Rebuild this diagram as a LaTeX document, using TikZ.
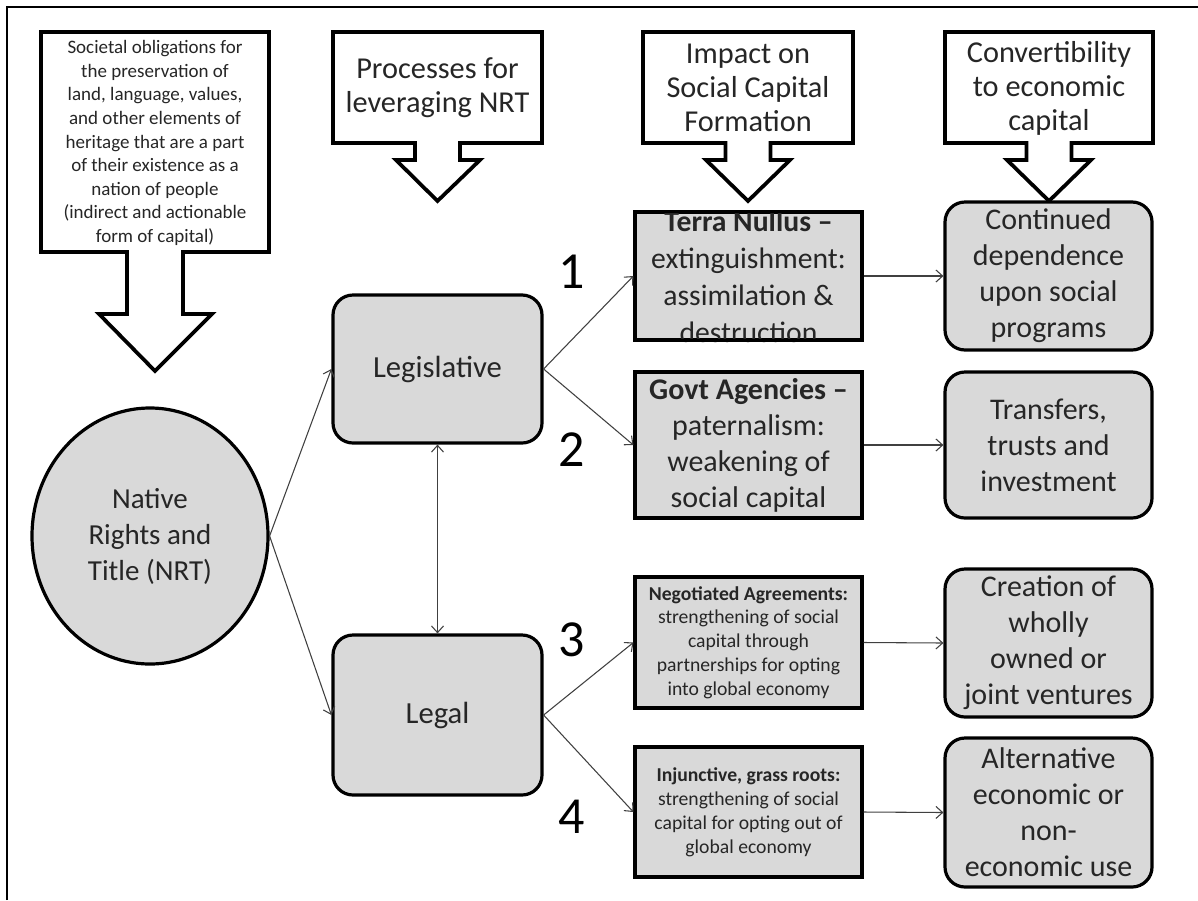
\documentclass[tikz,border=0pt]{standalone}
\usepackage{fontspec}
\setmainfont{Carlito}
\usetikzlibrary{shapes.geometric,arrows.meta}
\definecolor{boxgray}{HTML}{D9D9D9}
\definecolor{txt}{HTML}{262626}
\definecolor{conncol}{HTML}{404040}
\tikzset{
  big/.style={font=\fontsize{22.5pt}{27pt}\selectfont},
  callfont/.style={font=\fontsize{22.75pt}{25.5pt}\selectfont},
  small/.style={font=\fontsize{14.25pt}{17.7pt}\selectfont},
  smallbox/.style={font=\fontsize{14.75pt}{17.9pt}\selectfont},
  rbox/.style={draw=black, line width=2.4pt, fill=boxgray, rounded corners=15pt, inner sep=0pt, align=center, text=txt, big},
  sbox/.style={draw=black, line width=2.4pt, fill=boxgray, inner sep=0pt, align=center, text=txt},
  plain/.style={inner sep=0pt, align=center, text=txt},
  callout/.style={draw=black, line width=2.8pt, fill=white, line join=miter},
  >={Straight Barb[length=5pt,width=9pt]},
  conn/.style={draw=conncol, line width=0.8pt, ->},
  num/.style={font=\fontsize{39pt}{39pt}\selectfont, text=black, inner sep=0pt},
}
\begin{document}
\begin{tikzpicture}[x=0.75pt,y=-0.75pt]
\useasboundingbox (0,0) rectangle (1198,900);
% frame
\draw[line width=1.6pt] (7,900) -- (7,7) -- (1198,7);

% callouts
\draw[callout] (41,32) -- (269,32) -- (269,252) -- (183,252) -- (183,314) -- (212,314) -- (155,371) -- (99,314) -- (127,314) -- (127,252) -- (41,252) -- cycle;
\node[plain, small] (obl) at (155,143) {Societal obligations for\\the preservation of\\land, language, values,\\and other elements of\\heritage that are a part\\of their existence as a\\nation of people\\(indirect and actionable\\form of capital)};

\draw[callout] (333,32) -- (542,32) -- (542,143) -- (460,143) -- (460,160) -- (480,160) -- (437.5,201) -- (396,160) -- (415,160) -- (415,143) -- (333,143) -- cycle;
\node[plain, callfont] (proc) at (437.5,88) {Processes for\\leveraging NRT};

\draw[callout] (643,32) -- (853,32) -- (853,143) -- (770.5,143) -- (770.5,160) -- (790,160) -- (748,201) -- (706,160) -- (725.5,160) -- (725.5,143) -- (643,143) -- cycle;
\node[plain, callfont] (imp) at (748,88) {Impact on\\Social Capital\\Formation};

\draw[callout] (945,32) -- (1153,32) -- (1153,143) -- (1071.5,143) -- (1071.5,160) -- (1091,160) -- (1049,201) -- (1007,160) -- (1026.5,160) -- (1026.5,143) -- (945,143) -- cycle;
\node[plain, callfont] (conv) at (1049,88) {Convertibility\\to economic\\capital};

% left column
\node[ellipse, draw=black, line width=2.4pt, fill=boxgray, inner sep=0pt, minimum width=177pt, minimum height=192pt, align=center, text=txt, font=\fontsize{21.75pt}{27pt}\selectfont] (nrt) at (150,536) {Native\\Rights and\\Title (NRT)};

\node[rbox, font=\fontsize{23pt}{27pt}\selectfont, minimum width=156.75pt, minimum height=111pt] (leg) at (437.5,369) {Legislative};
\node[rbox, font=\fontsize{23pt}{27pt}\selectfont, minimum width=156.75pt, minimum height=120pt] (legal) at (437.5,715) {Legal};

% middle column
\node[sbox, minimum width=170.25pt, minimum height=96pt] (terra) at (748.5,276) {};
\node[plain, font=\fontsize{22.25pt}{27.75pt}\selectfont] (terratxt) at (748.5,277) {\textbf{Terra Nullus --}\\extinguishment:\\assimilation \&\\destruction};
\draw[line width=2.4pt] ([shift={(0.9pt,-0.9pt)}]terra.north west) rectangle ([shift={(-0.9pt,0.9pt)}]terra.south east);

\node[sbox, big, minimum width=170.25pt, minimum height=109.5pt] (govt) at (748.5,445) {\textbf{Govt Agencies --}\\paternalism:\\weakening of\\social capital};
\node[sbox, smallbox, minimum width=170.25pt, minimum height=98.25pt] (nego) at (748.5,642.5) {\textbf{Negotiated Agreements:}\\strengthening of social\\capital through\\partnerships for opting\\into global economy};
\node[sbox, smallbox, minimum width=170.25pt, minimum height=97.5pt] (inj) at (748.5,812) {\textbf{Injunctive, grass roots:}\\strengthening of social\\capital for opting out of\\global economy};

% right column
\node[rbox, minimum width=155.25pt, minimum height=111pt] (cont) at (1048.5,276) {Continued\\dependence\\upon social\\programs};
\node[rbox, minimum width=155.25pt, minimum height=109.5pt] (trans) at (1048.5,445) {Transfers,\\trusts and\\investment};
\node[rbox, minimum width=155.25pt, minimum height=111pt] (creat) at (1048.5,643) {Creation of\\wholly\\owned or\\joint ventures};
\node[rbox, minimum width=155.25pt, minimum height=111.75pt] (alt) at (1048.5,812.5) {Alternative\\economic or\\non-\\economic use};

% numbers
\node[num] (n1) at (572,272) {1};
\node[num] (n2) at (572,450) {2};
\node[num] (n3) at (572,640) {3};
\node[num] (n4) at (572,817) {4};

% connectors
\draw[conn] (nrt.east) -- (leg.west);
\draw[conn] (nrt.east) -- (legal.west);
\draw[conn, <->] (leg.south) -- (legal.north);
\draw[conn] (leg.east) -- (terra.west);
\draw[conn] (leg.east) -- (govt.west);
\draw[conn] (legal.east) -- (nego.west);
\draw[conn] (legal.east) -- (inj.west);
\draw[conn] (terra.east) -- (cont.west);
\draw[conn] (govt.east) -- (trans.west);
\draw[conn] (nego.east) -- (creat.west);
\draw[conn] (inj.east) -- (alt.west);
\end{tikzpicture}
\end{document}
